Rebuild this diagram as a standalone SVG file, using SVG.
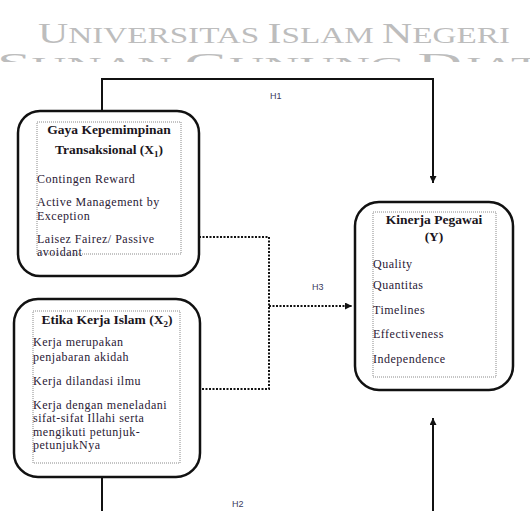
<svg xmlns="http://www.w3.org/2000/svg" width="530" height="511" viewBox="0 0 530 511">
<style>
.wm{font-family:"Liberation Serif",serif;fill:#bdbdbd;}
.box{fill:#fff;stroke:#111;stroke-width:2.5;}
.inner{fill:#fff;stroke:#8a8a8a;stroke-width:1;stroke-dasharray:1 1;}
.t{font-family:"Liberation Serif",serif;font-size:12px;letter-spacing:0.5px;fill:#2a2035;}
.b{font-family:"Liberation Serif",serif;font-size:13.5px;font-weight:bold;fill:#1a1520;text-anchor:middle;}
.lbl{font-family:"Liberation Sans",sans-serif;font-size:9px;fill:#3a3a60;}
.solid{fill:none;stroke:#111;stroke-width:2;}
.dot{fill:none;stroke:#111;stroke-width:2;stroke-dasharray:2 1.5;}
</style>
<defs>
<marker id="ah" viewBox="0 0 10 10" refX="10" refY="5" markerWidth="7" markerHeight="7" markerUnits="userSpaceOnUse" orient="auto">
<path d="M0,0 L10,5 L0,10 z" fill="#111"/>
</marker>
<clipPath id="wmclip"><rect x="0" y="0" width="530" height="62"/></clipPath>
</defs>
<rect width="530" height="511" fill="#fff"/>
<g id="watermark" clip-path="url(#wmclip)">
<text class="wm" x="38" y="43" textLength="472" lengthAdjust="spacingAndGlyphs"><tspan font-size="29">U</tspan><tspan font-size="23">NIVERSITAS </tspan><tspan font-size="29">I</tspan><tspan font-size="23">SLAM </tspan><tspan font-size="29">N</tspan><tspan font-size="23">EGERI</tspan></text>
<text class="wm" x="-3" y="73" textLength="560" lengthAdjust="spacingAndGlyphs"><tspan font-size="29">S</tspan><tspan font-size="23">UNAN </tspan><tspan font-size="29">G</tspan><tspan font-size="23">UNUNG </tspan><tspan font-size="29">D</tspan><tspan font-size="23">JATI</tspan></text>
</g>
<g id="connectors">
<path class="solid" d="M102,111 V79 H433 V183" marker-end="url(#ah)"/>
<path class="solid" d="M102,477 V511"/>
<path class="solid" d="M433,511 V418" marker-end="url(#ah)"/>
<path class="dot" d="M199,237 H269 V389 H200"/>
<path class="dot" d="M269,306 H352" marker-end="url(#ah)"/>
<text class="lbl" x="270" y="99">H1</text>
<text class="lbl" x="312" y="290">H3</text>
<text class="lbl" x="232" y="507">H2</text>
</g>
<g id="x1">
<rect class="box" x="18" y="111" width="181" height="165" rx="22"/>
<rect class="inner" x="37" y="122" width="144" height="132"/>
<text class="b" x="109" y="134">Gaya Kepemimpinan</text>
<text class="b" x="109" y="154">Transaksional (X<tspan font-size="9" dy="3">1</tspan><tspan dy="-3">)</tspan></text>
<text class="t" x="37" y="183">Contingen Reward</text>
<text class="t" x="37" y="206">Active Management by</text>
<text class="t" x="37" y="220">Exception</text>
<text class="t" x="37" y="243">Laisez Fairez/ Passive</text>
<text class="t" x="37" y="256">avoidant</text>
</g>
<g id="x2">
<rect class="box" x="14" y="299" width="186" height="178" rx="24"/>
<rect class="inner" x="33" y="311" width="147" height="152"/>
<text class="b" x="107" y="324">Etika Kerja Islam (X<tspan font-size="9" dy="3">2</tspan><tspan dy="-3">)</tspan></text>
<text class="t" x="33" y="346">Kerja merupakan</text>
<text class="t" x="33" y="361">penjabaran akidah</text>
<text class="t" x="33" y="385">Kerja dilandasi ilmu</text>
<text class="t" x="33" y="409">Kerja dengan meneladani</text>
<text class="t" x="33" y="422">sifat-sifat Illahi serta</text>
<text class="t" x="33" y="436">mengikuti petunjuk-</text>
<text class="t" x="33" y="449">petunjukNya</text>
</g>
<g id="y">
<rect class="box" x="355" y="202" width="158" height="188" rx="24"/>
<rect class="inner" x="373" y="212" width="123" height="165"/>
<text class="b" x="434" y="224">Kinerja Pegawai</text>
<text class="b" x="434" y="241">(Y)</text>
<text class="t" x="373" y="268">Quality</text>
<text class="t" x="373" y="289">Quantitas</text>
<text class="t" x="373" y="314">Timelines</text>
<text class="t" x="373" y="338">Effectiveness</text>
<text class="t" x="373" y="363">Independence</text>
</g>
</svg>
